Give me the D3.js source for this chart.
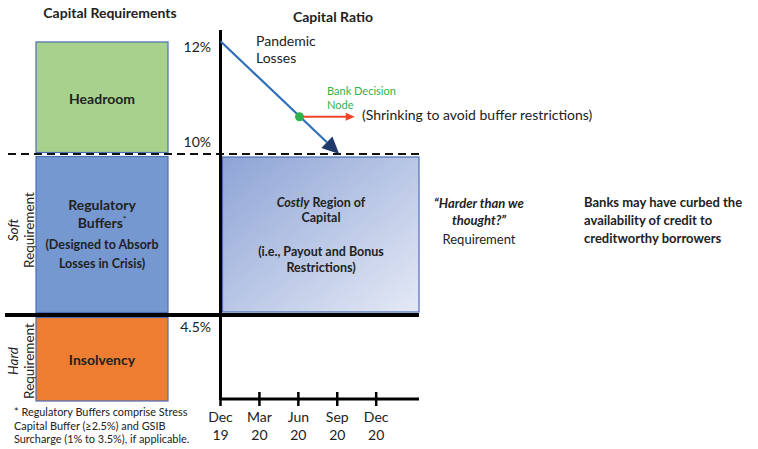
<!DOCTYPE html>
<html>
<head>
<meta charset="utf-8">
<script src="https://cdn.jsdelivr.net/npm/d3@7"></script>
<style>
  html, body { margin: 0; padding: 0; background: #fff; }
  svg { display: block; font-family: Lato, "Open Sans", sans-serif; }
</style>
</head>
<body>
<svg id="chart" width="758" height="449"></svg>
<script>
// Capital stack (percent of risk-weighted assets)
const stackNames = ["Headroom", "Regulatory Buffers", "Insolvency"];
const stackLow = [10, 4.5, 0];
const stackHigh = [12, 10, 4.5];
const stackColors = ["#a9d18e", "#7598d1", "#ed7d31"];

// Ratio axis labels
const ratioTicks = [12, 10, 4.5];
const ratioTickLabels = ["12%", "10%", "4.5%"];

// Quarters on the time axis
const quarterIndex = [0, 1, 2, 3, 4];
const quarterMonth = ["Dec", "Mar", "Jun", "Sep", "Dec"];
const quarterYear = ["19", "20", "20", "20", "20"];

// Capital ratio path under pandemic losses (quarter index, ratio %)
const pathQuarter = [0, 3.05];
const pathRatio = [12, 10];

// Bank decision node and its shrinking alternative
const nodeQuarter = 2.03;
const nodeRatio = 10.66;
const shrinkQuarter = 3.45;

// Thresholds
const bufferLine = 10;
const hardLine = 4.5;

const svg = d3.select("#chart");
const defs = svg.append("defs");

// piecewise scale: the ratio axis is compressed below the buffer line
const y = d3.scaleLinear().domain([0, 4.5, 10, 12.2]).range([399, 315, 154, 30]);
const x = d3.scaleLinear().domain([0, 5.1]).range([220.5, 419]);

const txt = "#222";

// ---- titles
svg.append("text").attr("x", 110).attr("y", 18).attr("text-anchor", "middle")
  .attr("font-weight", "bold").attr("font-size", 14).attr("fill", txt).text("Capital Requirements");
svg.append("text").attr("x", 333).attr("y", 22).attr("text-anchor", "middle")
  .attr("font-weight", "bold").attr("font-size", 14).attr("fill", txt).text("Capital Ratio");

// ---- capital stack boxes
const boxX0 = 36, boxX1 = 168;
const gap = [1.5, 2.5, 2.5];
stackNames.forEach((n, i) => {
  const top = y(stackHigh[i]) + (i === 0 ? 0.7 : 2.5);
  const bot = y(stackLow[i]) - (i === 2 ? -2 : gap[i]);
  svg.append("rect")
    .attr("x", boxX0).attr("y", top)
    .attr("width", boxX1 - boxX0).attr("height", bot - top)
    .attr("fill", stackColors[i])
    .attr("stroke", "#4a6fb5").attr("stroke-width", 1.2);
});

// labels inside boxes
const cx = (boxX0 + boxX1) / 2;
function lines(g, arr, x0, y0, lh, attrs) {
  arr.forEach((t, i) => {
    const e = g.append("text").attr("x", x0).attr("y", y0 + i * lh).attr("text-anchor", "middle")
      .attr("fill", txt);
    Object.entries(attrs || {}).forEach(([k, v]) => e.attr(k, v));
    e.text(t);
  });
}
lines(svg, ["Headroom"], cx, 104, 0, { "font-weight": "bold", "font-size": 14 });
svg.append("text").attr("x", cx).attr("y", 210).attr("text-anchor", "middle")
  .attr("font-weight", "bold").attr("font-size", 14).attr("fill", txt).text("Regulatory");
const bufT = svg.append("text").attr("x", cx).attr("y", 228).attr("text-anchor", "middle")
  .attr("font-weight", "bold").attr("font-size", 14).attr("fill", txt);
bufT.append("tspan").text("Buffers");
bufT.append("tspan").attr("font-size", 8).attr("dy", -6).text("*");
lines(svg, ["(Designed to Absorb", "Losses in Crisis)"], cx, 249, 19, { "font-weight": "bold", "font-size": 12.5 });
lines(svg, ["Insolvency"], cx, 365, 0, { "font-weight": "bold", "font-size": 14 });

// rotated side labels
function sideLabel(cy, word) {
  const g = svg.append("g");
  g.append("text").attr("transform", `translate(18,${cy}) rotate(-90)`).attr("text-anchor", "middle")
    .attr("font-style", "italic").attr("font-size", 13.5).attr("fill", txt).text(word);
  g.append("text").attr("transform", `translate(33.5,${cy}) rotate(-90)`).attr("text-anchor", "middle")
    .attr("font-size", 13.5).attr("fill", txt).text("Requirement");
}
sideLabel(230, "Soft");
sideLabel(361, "Hard");

// footnote
const foot = ["* Regulatory Buffers comprise Stress", "Capital Buffer (\u22652.5%) and GSIB", "Surcharge (1% to 3.5%), if applicable."];
foot.forEach((t, i) => {
  svg.append("text").attr("x", 14).attr("y", 416 + i * 13.5).attr("font-size", 10.9).attr("fill", txt).text(t);
});

// ---- costly region with diagonal gradient
const grad = defs.append("linearGradient").attr("id", "costly")
  .attr("x1", "0%").attr("y1", "0%").attr("x2", "100%").attr("y2", "100%");
grad.append("stop").attr("offset", "0%").attr("stop-color", "#8ea4d6");
grad.append("stop").attr("offset", "100%").attr("stop-color", "#e4e9f5");
svg.append("rect")
  .attr("x", 222.5).attr("y", y(bufferLine) + 3)
  .attr("width", 419 - 222.5).attr("height", y(hardLine) - 3 - (y(bufferLine) + 3))
  .attr("fill", "url(#costly)").attr("stroke", "#4a6fb5").attr("stroke-width", 1.2);

const ccx = 321;
const costly = svg.append("text").attr("x", ccx).attr("y", 207).attr("text-anchor", "middle")
  .attr("font-weight", "bold").attr("font-size", 12.5).attr("fill", txt);
costly.append("tspan").attr("font-style", "italic").text("Costly");
costly.append("tspan").text(" Region of");
lines(svg, ["Capital"], ccx, 222, 0, { "font-weight": "bold", "font-size": 12.5 });
lines(svg, ["(i.e., Payout and Bonus", "Restrictions)"], ccx, 256, 16, { "font-weight": "bold", "font-size": 12.5 });

// ---- threshold lines
svg.append("line").attr("x1", 8).attr("x2", 420).attr("y1", y(bufferLine)).attr("y2", y(bufferLine))
  .attr("stroke", "#111").attr("stroke-width", 2).attr("stroke-dasharray", "8,5");
svg.append("line").attr("x1", 5).attr("x2", 419).attr("y1", y(hardLine)).attr("y2", y(hardLine))
  .attr("stroke", "#000").attr("stroke-width", 4);

// ---- axes
svg.append("line").attr("x1", x(0)).attr("x2", x(0)).attr("y1", y(12.2)).attr("y2", y(0) + 1)
  .attr("stroke", "#000").attr("stroke-width", 3);
svg.append("line").attr("x1", x(0)).attr("x2", x(5.1)).attr("y1", y(0)).attr("y2", y(0))
  .attr("stroke", "#000").attr("stroke-width", 3);
quarterIndex.forEach((q, i) => {
  svg.append("line").attr("x1", x(q)).attr("x2", x(q)).attr("y1", y(0) - 7).attr("y2", y(0) + 7)
    .attr("stroke", "#000").attr("stroke-width", 2.5);
  svg.append("text").attr("x", x(q)).attr("y", 422).attr("text-anchor", "middle")
    .attr("font-size", 14).attr("fill", txt).text(quarterMonth[i]);
  svg.append("text").attr("x", x(q)).attr("y", 440).attr("text-anchor", "middle")
    .attr("font-size", 14).attr("fill", txt).text(quarterYear[i]);
});

// ratio labels sit beside their thresholds
const labelShift = [11, -7, 17];
ratioTicks.forEach((v, i) => {
  svg.append("text").attr("x", 211).attr("y", y(v) + labelShift[i]).attr("text-anchor", "end")
    .attr("font-size", 14).attr("fill", txt).text(ratioTickLabels[i]);
});

// ---- capital ratio path with arrowhead
const x0 = x(pathQuarter[0]), y0 = y(pathRatio[0]);
const x1 = x(pathQuarter[1]), y1 = y(pathRatio[1]);
const ang = Math.atan2(y1 - y0, x1 - x0);
const headLen = 17, headW = 8;
const bx = x1 - headLen * Math.cos(ang), by = y1 - headLen * Math.sin(ang);
svg.append("line").attr("x1", x0).attr("y1", y0).attr("x2", bx).attr("y2", by)
  .attr("stroke", "#2e6fb7").attr("stroke-width", 2.2);
svg.append("path")
  .attr("d", `M${x1},${y1} L${bx + headW * Math.sin(ang)},${by - headW * Math.cos(ang)} L${bx - headW * Math.sin(ang)},${by + headW * Math.cos(ang)} Z`)
  .attr("fill", "#1f3a6a");

// shrinking arrow from the decision node
const nx = x(nodeQuarter), ny = y(nodeRatio), sx = x(shrinkQuarter);
svg.append("line").attr("x1", nx).attr("y1", ny).attr("x2", sx - 7).attr("y2", ny)
  .attr("stroke", "#f0432a").attr("stroke-width", 2);
svg.append("path").attr("d", `M${sx},${ny} L${sx - 9},${ny - 4} L${sx - 9},${ny + 4} Z`).attr("fill", "#f0432a");
svg.append("circle").attr("cx", nx).attr("cy", ny).attr("r", 4.5).attr("fill", "#2fb24c");

// annotations
lines(svg, ["Pandemic", "Losses"], 256, 46, 17, { "font-size": 14, "text-anchor": "start" });
lines(svg, ["Bank Decision", "Node"], 327, 95, 14, { "font-size": 11, "text-anchor": "start", "fill": "#2fb24c" });
svg.append("text").attr("x", 362).attr("y", 120).attr("font-size", 14).attr("fill", txt)
  .text("(Shrinking to avoid buffer restrictions)");

lines(svg, ["\u201cHarder than we", "thought?\u201d"], 479, 208, 17, { "font-weight": "bold", "font-style": "italic", "font-size": 13 });
lines(svg, ["Requirement"], 479, 244, 0, { "font-size": 13 });
lines(svg, ["Banks may have curbed the", "availability of credit to", "creditworthy borrowers"], 584, 207, 18,
  { "font-weight": "bold", "font-size": 13, "text-anchor": "start" });
</script>
</body>
</html>
